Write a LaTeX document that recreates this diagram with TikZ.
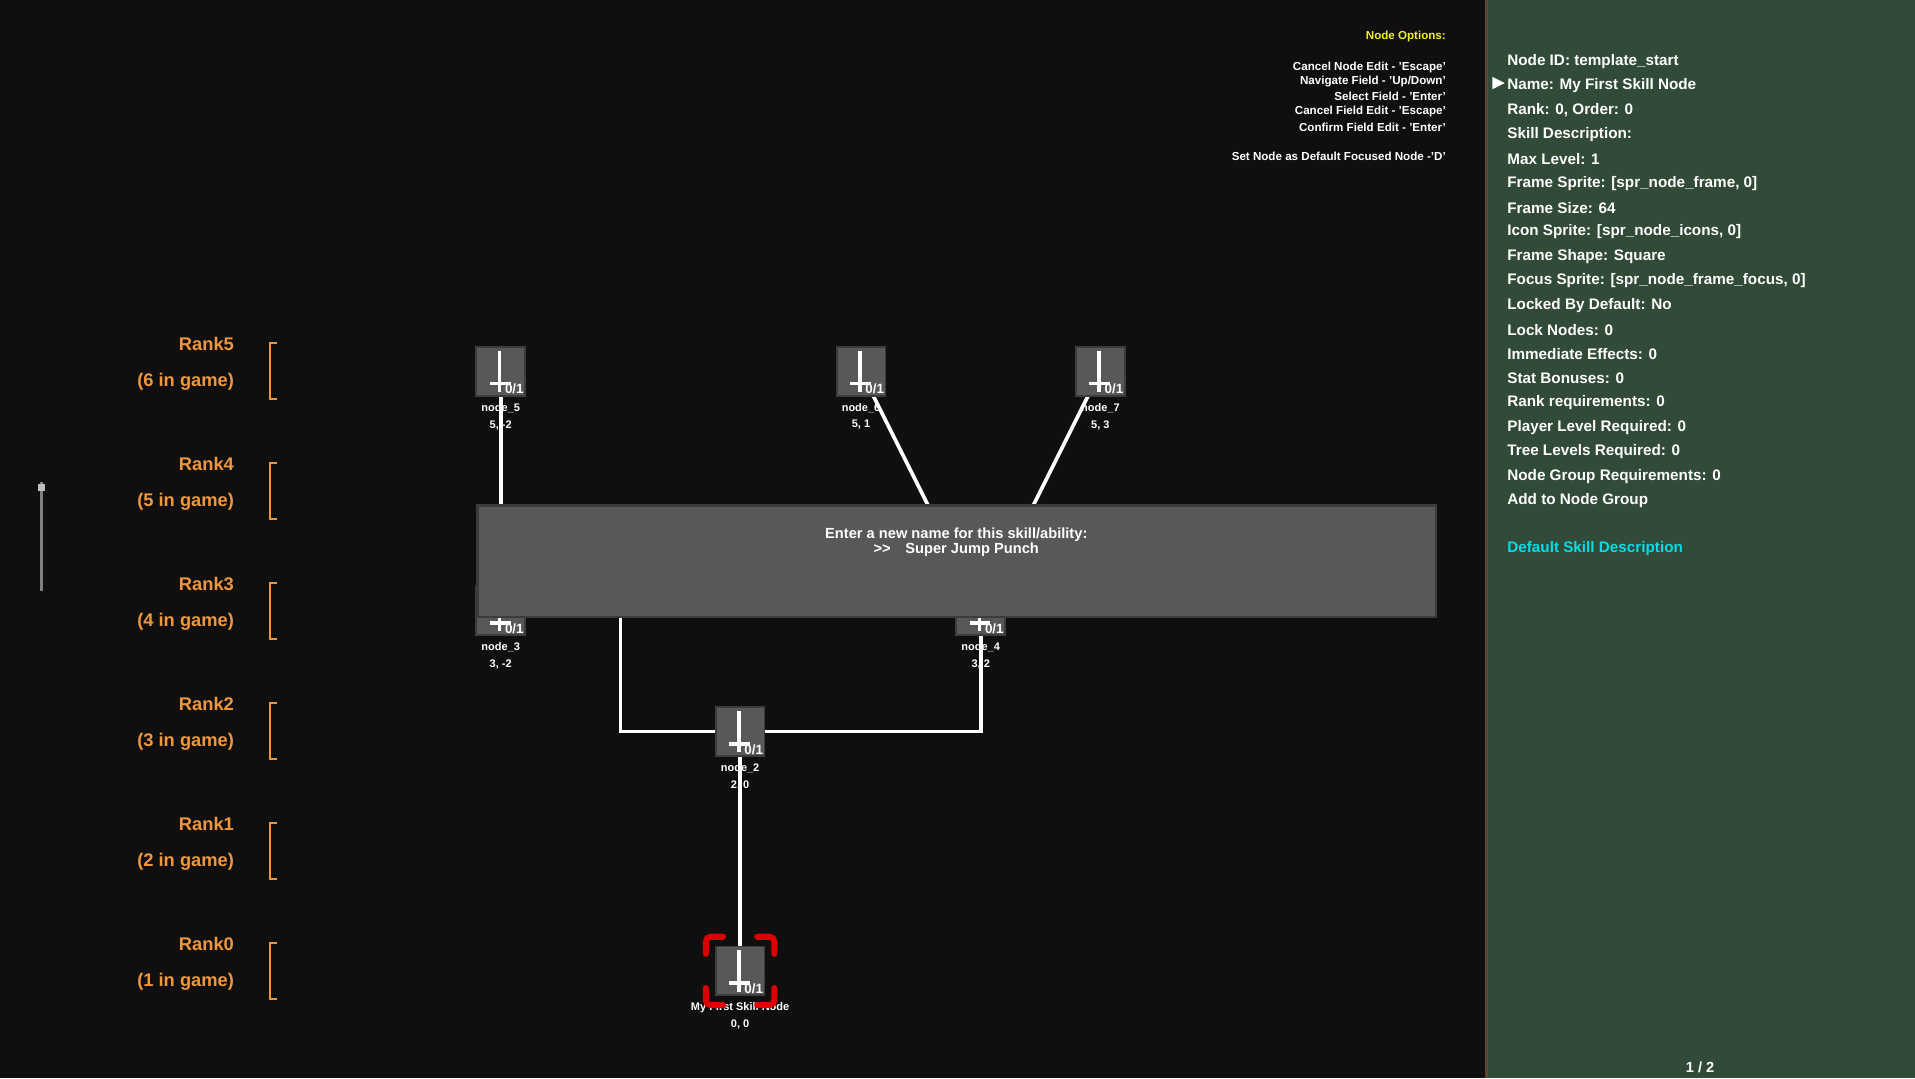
\documentclass[tikz,border=0pt]{standalone}
\usepackage{fontspec}
\setmainfont{Liberation Sans}
\usetikzlibrary{positioning}
\definecolor{bgdark}{RGB}{15,15,15}
\definecolor{panelgreen}{RGB}{50,75,56}
\definecolor{panelrim}{RGB}{90,70,50}
\definecolor{rankorange}{RGB}{240,150,60}
\definecolor{nodegray}{RGB}{88,88,88}
\definecolor{nodeedge}{RGB}{60,60,60}
\definecolor{optyellow}{RGB}{240,240,40}
\definecolor{desccyan}{RGB}{0,220,230}
\definecolor{focusred}{RGB}{220,0,0}
\tikzset{
  skillbox/.style={draw=nodeedge, fill=nodegray, line width=1.5pt, minimum size=40pt, inner sep=0pt},
  skilllabel/.style={text=white, font=\fontsize{9}{10}\selectfont\bfseries, align=center, inner sep=0pt},
  link/.style={white, line width=3pt},
  ranktext/.style={text=rankorange, font=\fontsize{15}{16}\selectfont\bfseries},
  paneltext/.style={text=white, anchor=west, font=\fontsize{12.5}{14}\selectfont\bfseries, inner sep=0pt},
  opttext/.style={text=white, anchor=east, font=\fontsize{9.5}{10}\selectfont\bfseries, inner sep=0pt}
}
% skill node: name, x, y, caption, grid position
\newcommand{\skillnode}[5]{
  \node[skillbox] (#1) at (#2,#3) {};
  \draw[white, line width=3pt] (#2-1,#3-17) -- (#2-1,#3+17);
  \draw[white, line width=3pt] (#2-9,#3+10) -- (#2+8,#3+10);
  \node[text=white, font=\fontsize{11}{12}\selectfont\bfseries, anchor=south east, inner sep=1pt] at (#2+20,#3+20) {0/1};
  \node[skilllabel] (#1cap) at (#2,#3+30) {#4};
  \node[skilllabel] (#1pos) at (#2,#3+44) {#5};
}
\begin{document}
\begin{tikzpicture}[x=1pt, y=-1pt]
  % Background and side panel
  \fill[bgdark] (0,0) rectangle (1568,883);
  \useasboundingbox (0,0) rectangle (1568,883);
  \fill[panelgreen] (1217,0) rectangle (1568,883);
  \draw[panelrim, line width=2pt] (1217,0) -- (1217,883);

  % Scroll bar
  \draw[gray, line width=2pt] (34,395) -- (34,484);
  \fill[lightgray] (31,396) rectangle (37,402);

  % Rank labels
  \foreach \r/\g [count=\i from 0] in {0/1,1/2,2/3,3/4,4/5,5/6}{
    \pgfmathsetmacro{\yy}{773-98.2*\i}
    \node[ranktext] (rank\r) at (169,\yy) {Rank\r};
    \node[ranktext] (game\r) at (152,\yy+31) {(\g{} in game)};
    \draw[rankorange, line width=1.5pt] (227,\yy-1) -- (221,\yy-1) -- (221,\yy+45) -- (227,\yy+45);
  }

  % Node options
  \node[text=optyellow, anchor=east, font=\fontsize{9.5}{10}\selectfont\bfseries, inner sep=0pt] (opthead) at (1184,30) {Node Options:};
  \node[opttext] (opt1) at (1184,55) {Cancel Node Edit - 'Escape'};
  \node[opttext] (opt2) at (1184,67) {Navigate Field - 'Up/Down'};
  \node[opttext] (opt3) at (1184,79) {Select Field - 'Enter'};
  \node[opttext] (opt4) at (1184,91) {Cancel Field Edit - 'Escape'};
  \node[opttext] (opt5) at (1184,104) {Confirm Field Edit - 'Enter'};
  \node[opttext] (opt6) at (1184,128) {Set Node as Default Focused Node -'D'};

  % Connections
  \coordinate (elbowL) at (508,599);
  \coordinate (elbowR) at (803,599);
  \draw[link] (410,304) -- (410,500);
  \draw[link] (705,304) -- (803,500);
  \draw[link] (901,304) -- (803,500);
  \draw[link] (508,480) -- (elbowL) -- (606,599);
  \draw[link] (803,500) -- (elbowR) -- (606,599);
  \draw[link] (606,599) -- (606,795);

  % Skill nodes
  \skillnode{node5}{410}{304}{node\_5}{5, -2}
  \skillnode{node6}{705}{304}{node\_6}{5, 1}
  \skillnode{node7}{901}{304}{node\_7}{5, 3}
  \skillnode{node3}{410}{500}{node\_3}{3, -2}
  \skillnode{node4}{803}{500}{node\_4}{3, 2}
  \skillnode{node2}{606}{599}{node\_2}{2, 0}
  \skillnode{start}{606}{795}{My First Skill Node}{0, 0}

  % Focus corners
  \foreach \sx in {-1,1}{
    \foreach \sy in {-1,1}{
      \draw[focusred, line width=5pt, line cap=round, rounded corners=4pt]
        (606+\sx*14,795+\sy*28) -- (606+\sx*28,795+\sy*28) -- (606+\sx*28,795+\sy*14);
    }
  }

  % Rename dialog
  \fill[nodegray] (391,414) rectangle (1176,505);
  \draw[nodeedge, line width=2pt] (391,414) rectangle (1176,505);
  \node[text=white, font=\fontsize{12}{12}\selectfont\bfseries, align=center, inner sep=0pt] (dialog) at (783,444)
    {Enter a new name for this skill/ability:\\>{}>\quad Super Jump Punch};

  % Side panel fields
  \foreach \t [count=\i from 0] in {Node ID: template\_start, Name: My First Skill Node, {Rank: 0, Order: 0},
      Skill Description:, Max Level: 1, {Frame Sprite: [spr\_node\_frame, 0]}, Frame Size: 64,
      {Icon Sprite: [spr\_node\_icons, 0]}, Frame Shape: Square, {Focus Sprite: [spr\_node\_frame\_focus, 0]},
      Locked By Default: No, Lock Nodes: 0, Immediate Effects: 0, Stat Bonuses: 0,
      Rank requirements: 0, Player Level Required: 0, Tree Levels Required: 0,
      Node Group Requirements: 0, Add to Node Group}{
    \node[paneltext] (field\i) at (1234,50+20*\i) {\t};
  }
  \fill[white] (1222,63) -- (1232,68) -- (1222,73) -- cycle;
  \node[paneltext, text=desccyan] (desc) at (1234,449) {Default Skill Description};
  \node[text=white, font=\fontsize{12}{12}\selectfont\bfseries] (page) at (1392,874) {1 / 2};
\end{tikzpicture}
\end{document}
